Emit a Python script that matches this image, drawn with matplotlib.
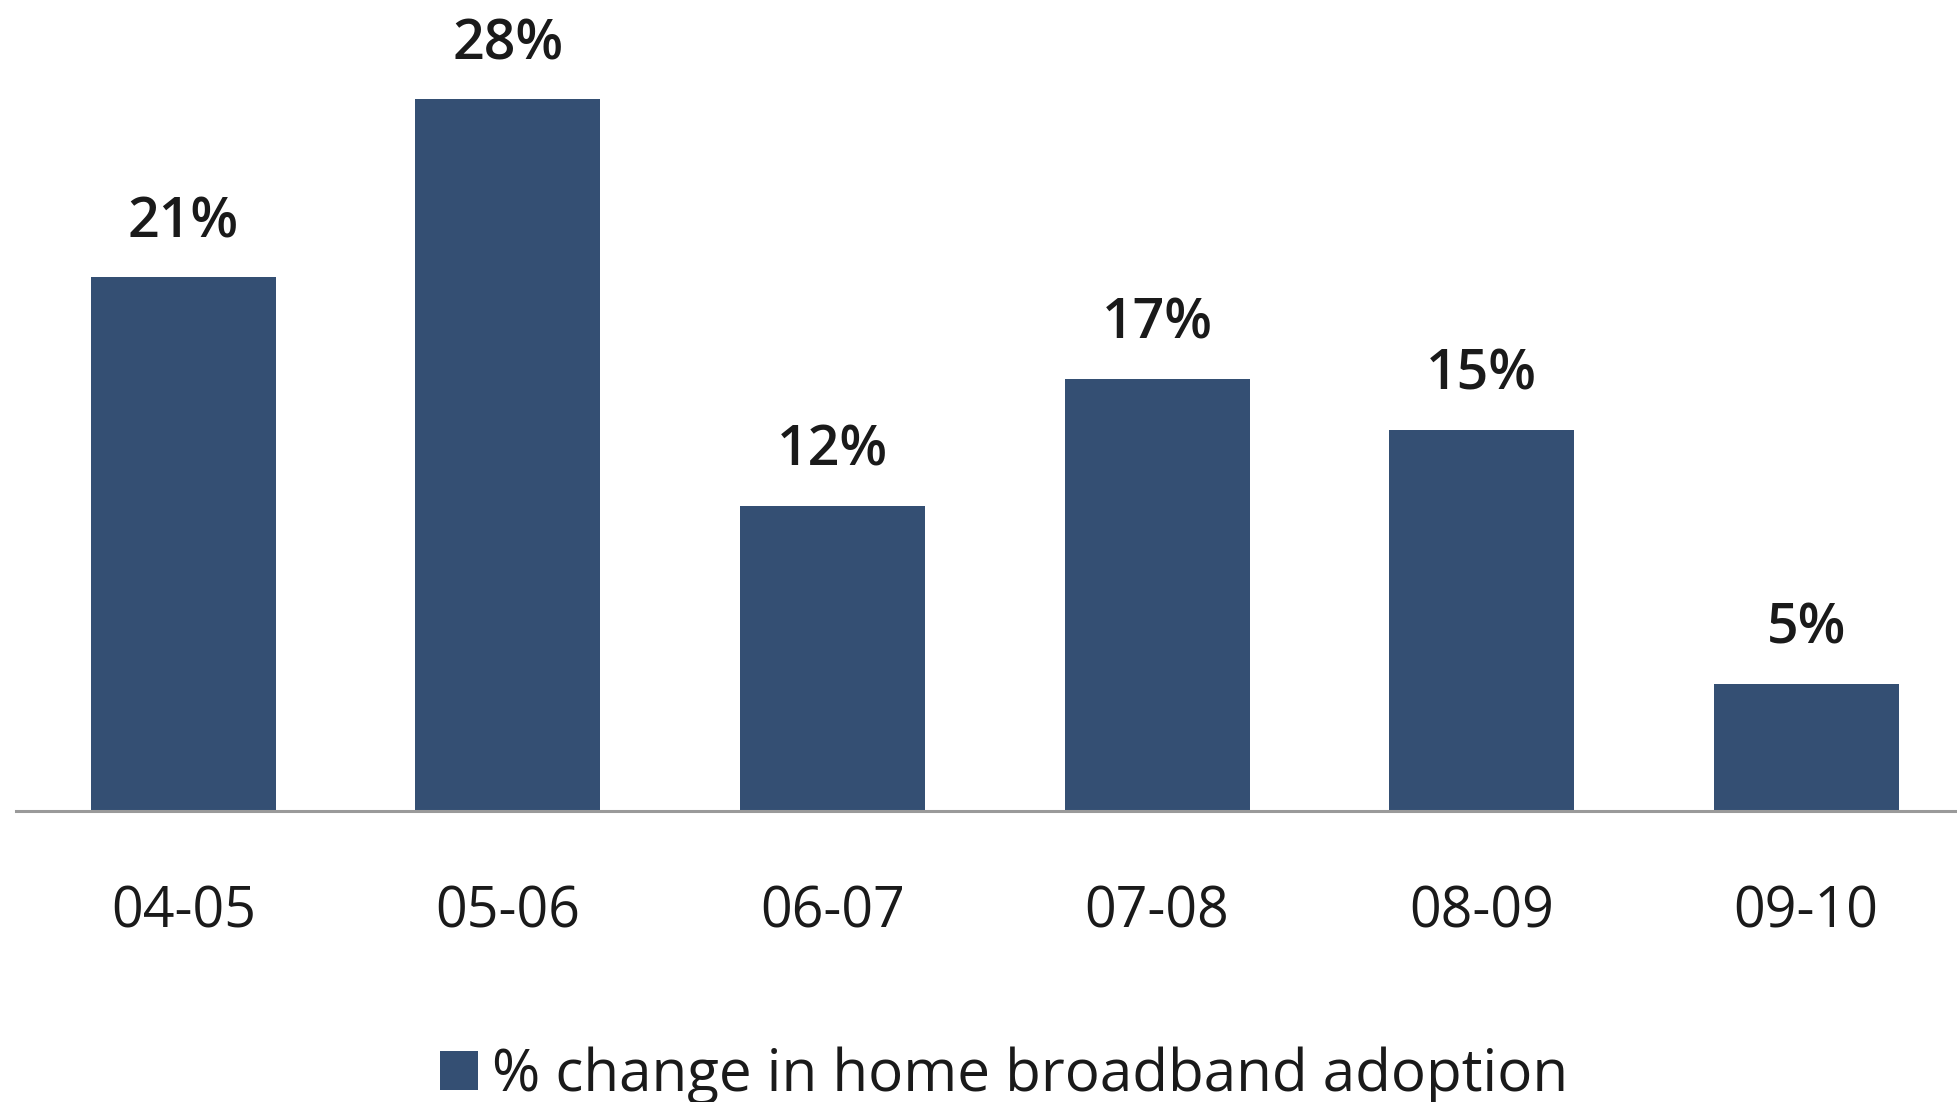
import matplotlib
matplotlib.use("Agg")
import matplotlib.pyplot as plt
from matplotlib.patches import Patch
from matplotlib.transforms import blended_transform_factory

categories = ["04-05", "05-06", "06-07", "07-08", "08-09", "09-10"]
values = [21, 28, 12, 17, 15, 5]
value_labels = ["21%", "28%", "12%", "17%", "15%", "5%"]
legend_label = "% change in home broadband adoption"

plt.rcParams['font.family'] = ['Open Sans', 'DejaVu Sans']
bar_color = "#344F73"

W, H, DPI = 1957, 1102, 100
fig = plt.figure(figsize=(W / DPI, H / DPI), dpi=DPI)
base_y = 811
ax = fig.add_axes([16 / W, (H - base_y) / H, 1 - 16 / W, base_y / H])

x = list(range(len(categories)))
ax.bar(x, values, width=0.57, color=bar_color, zorder=2)
ax.set_xlim(-0.516, 5.465)
ax.set_ylim(0, 31.9)

for s in ["top", "right", "left"]:
    ax.spines[s].set_visible(False)
ax.spines["bottom"].set_color("#9A9A9A")
ax.spines["bottom"].set_linewidth(2.2)
ax.set_yticks([])
ax.set_xticks(x)
ax.set_xticklabels([])
ax.tick_params(axis="x", length=0)

trans = blended_transform_factory(ax.transData, ax.transAxes)
for xi, c in zip(x, categories):
    ax.annotate(c, (xi, 0), xycoords=trans, xytext=(0, -117 * 72 / DPI),
                textcoords="offset points", ha="center", va="baseline",
                fontsize=40, color="#1a1a1a")

for xi, v, lab in zip(x, values, value_labels):
    ax.annotate(lab, (xi, v), xytext=(0, 40 * 72 / DPI), textcoords="offset points",
                ha="center", va="baseline", fontsize=40, fontweight="semibold",
                color="#1a1a1a")

handle = Patch(facecolor=bar_color, edgecolor="none")
fig.legend([handle], [legend_label], loc="center", bbox_to_anchor=(0.513, 0.024),
           frameon=False, fontsize=42, handlelength=0.65, handleheight=0.65,
           handletextpad=0.25, labelcolor="#1a1a1a")

fig.savefig("out.png", dpi=DPI)
